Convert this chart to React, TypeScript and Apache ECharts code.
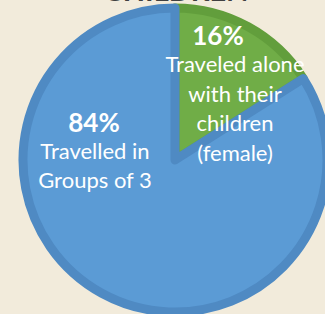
import React, { useEffect, useRef } from "react";
import * as echarts from "echarts";

const categories = [["Traveled alone", "with their", "children", "(female)"], ["Travelled in", "Groups of 3"]];
const values = [16, 84];
const fillColors = ["#70AD47", "#5B9BD5"];
const borderColors = ["#629E3C", "#4F8AC3"];
const titleText = "CHILDREN";

export default function App() {
  const ref = useRef<HTMLDivElement>(null);
  useEffect(() => {
    const chart = echarts.init(ref.current!, null, { renderer: "svg" });
    const total = values.reduce((a, b) => a + b, 0);
    const pct = values.map((v) => Math.round((v / total) * 100) + "%");
    const labelAnchors = [
      { x: 235, y: 21.5, pLh: 27.5, pPadR: 34 },
      { x: 95, y: 108, pLh: 27.5, pPadR: 2 },
    ];
    const font = "Lato, 'Open Sans', sans-serif";
    const graphics: any[] = [
      {
        type: "text",
        x: 176,
        y: 4,
        z: 100,
        style: {
          text: titleText,
          fill: "#404040",
          font: `bold 29px ${font}`,
          textAlign: "center",
          textVerticalAlign: "bottom",
        },
      },
    ];
    values.forEach((_, i) => {
      const a = labelAnchors[i];
      const text = [`{p|${pct[i]}}`, ...categories[i].map((l) => `{t|${l}}`)].join("\n");
      graphics.push({
        type: "text",
        x: a.x,
        y: a.y,
        z: 100,
        style: {
          text,
          fill: "#ffffff",
          textAlign: "center",
          textVerticalAlign: "top",
          rich: {
            p: {
              fill: "#ffffff",
              fontFamily: font,
              fontWeight: "bold",
              fontSize: 26,
              lineHeight: a.pLh,
              padding: [0, a.pPadR, 0, 0],
            },
            t: {
              fill: "#ffffff",
              fontFamily: font,
              fontSize: 22,
              lineHeight: 29.5,
            },
          },
        },
      });
    });
    chart.setOption({
      animation: false,
      backgroundColor: "#F2EBDB",
      series: [
        {
          type: "pie",
          z: 1,
          center: [175, 160],
          radius: [0, 152],
          startAngle: 90,
          clockwise: true,
          label: { show: false },
          labelLine: { show: false },
          data: values.map((v, i) => ({
            value: v,
            name: categories[i].join(" "),
            itemStyle: { color: fillColors[i], borderColor: borderColors[i], borderWidth: 9 },
          })),
        },
      ],
      graphic: graphics,
    });
    return () => chart.dispose();
  }, []);
  return <div ref={ref} style={{ position: "absolute", left: 0, top: 0, width: 325, height: 314 }} />;
}
